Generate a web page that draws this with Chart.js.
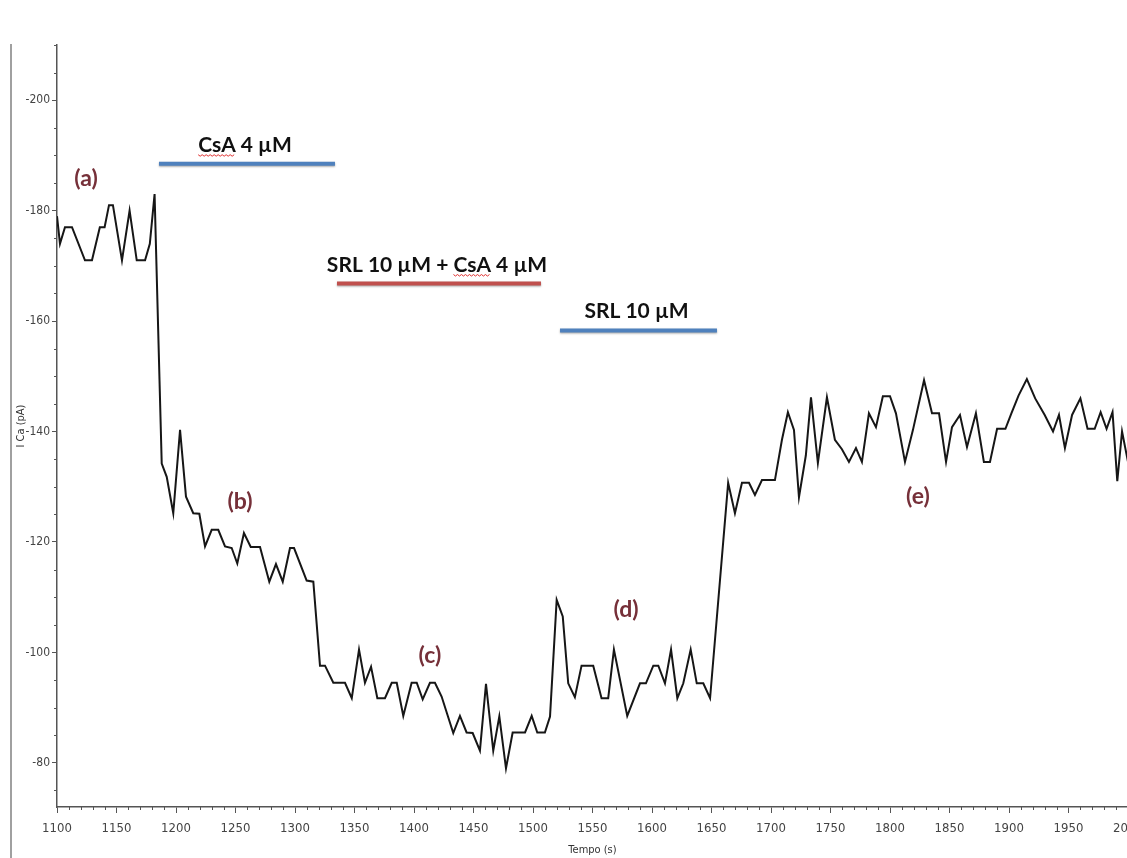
<!DOCTYPE html>
<html>
<head>
<meta charset="utf-8">
<script src="https://cdn.jsdelivr.net/npm/chart.js@4"></script>
<style>
  body { margin: 0; background: #fff; overflow: hidden; }
  #wrap { position: relative; width: 1127px; height: 858px; overflow: hidden; }
  #frame { position: absolute; left: 10px; top: 44px; width: 2px; height: 814px; background: #a0a0a0; }
  canvas { position: absolute; left: 0; top: 0; }
</style>
</head>
<body>
<div id="wrap">
  <div id="frame"></div>
  <canvas id="icaChart" width="1160" height="858"></canvas>
</div>
<script>
// ICa trace (time in s, current in pA)
const timeS = [
  1100, 1102.5, 1106.7, 1112.6, 1123.5, 1129.4, 1136, 1140, 1143.7, 1147, 1154.6, 1161, 1167, 1174, 1178, 1182,
  1188, 1192.2, 1197.7, 1203.4, 1208.4, 1214.5, 1219.6, 1224.4, 1230, 1235.5, 1241.2, 1246.8, 1251.5, 1257.1,
  1262.8, 1270.6, 1278.4, 1284, 1289.7, 1295.8, 1299.2, 1309.8, 1315.4,
  1321, 1325.2, 1332.2, 1342, 1347.7, 1353.8, 1358.8, 1363.9, 1369.2, 1375.6, 1381.3, 1385.5, 1391, 1398,
  1402.3, 1407.3, 1413.4, 1417.6, 1423.2, 1433, 1438.6, 1444.2, 1449.3, 1455.4, 1460.5, 1466.6, 1471.7,
  1477.3, 1482.9, 1493.3, 1498.9, 1503.6, 1510, 1514.3,
  1519.9, 1525, 1529.6, 1535.2, 1540.8, 1550.6, 1557.6, 1563.2, 1568, 1579.2, 1589.9, 1594.9, 1601.1,
  1605.3, 1610.9, 1616, 1621.3, 1626.3, 1632.5, 1637.6, 1643.1, 1648.8,
  1664, 1669.7, 1675.6, 1681.5, 1686.5, 1692.4, 1703.3, 1709.2, 1714.2, 1719.3, 1723.5, 1729.3, 1733.6,
  1739.4, 1747, 1753.7, 1759.6, 1765.5, 1771.4, 1776.4, 1782.3, 1788.2, 1794, 1800, 1805, 1812.6, 1819.3,
  1828.6, 1835.3, 1841.2, 1847.1, 1852.1, 1858.8, 1864.7, 1872.2, 1878.9, 1884, 1890, 1897, 1902, 1908,
  1915, 1922, 1930, 1937, 1942, 1947, 1953, 1960, 1966, 1972, 1977, 1982, 1987, 1991, 1995, 2000, 2004
];
const currentPA = [
  -179, -174, -177, -177, -171, -171, -177, -177, -181, -181, -171, -180, -171, -171, -174, -183,
  -134.2, -131.8, -125.2, -140.3, -128.2, -125.2, -125.1, -119.2, -122.2, -122.2, -119.2, -118.9, -116.1, -121.6,
  -119.1, -119.1, -112.8, -116, -112.8, -118.9, -118.9, -113, -112.8,
  -97.6, -97.6, -94.5, -94.5, -91.7, -100.5, -94.5, -97.4, -91.7, -91.7, -94.5, -94.5, -88.5, -94.5,
  -94.5, -91.5, -94.5, -94.5, -92, -85.4, -88.5, -85.5, -85.4, -82.2, -94.3, -82.2, -88.4,
  -79, -85.5, -85.5, -88.5, -85.5, -85.5, -88.4,
  -109.5, -106.5, -94.4, -91.9, -97.6, -97.6, -91.7, -91.7, -100.5, -88.5, -94.4, -94.4, -97.6,
  -97.6, -94.4, -100.5, -91.7, -94.4, -100.5, -94.4, -94.4, -91.7,
  -130.7, -125.2, -130.7, -130.7, -128.5, -131.2, -131.2, -138.5, -143.5, -140.3, -128.1, -135.7, -146.2,
  -134.3, -146.2, -138.5, -136.8, -134.5, -137, -134.5, -143.3, -140.8, -146.4, -146.4, -143.3, -134.5, -140.3,
  -149.3, -143.3, -143.3, -134.5, -140.8, -143, -137.2, -143.3, -134.5, -134.5, -140.5, -140.5, -143.3, -146.5,
  -149.5, -146, -143, -140, -143, -137, -143, -146, -140.5, -140.5, -143.5, -140.5, -143.5, -131, -140, -134.5, -134.5
];

const xTickStep = 50;
const yTicks = [-200, -180, -160, -140, -120, -100, -80];

// drug application periods
const treatmentLabels = ['CsA 4 µM', 'SRL 10 µM + CsA 4 µM', 'SRL 10 µM'];
const treatmentStart = [1185.7, 1335.3, 1522.7];
const treatmentEnd = [1333.6, 1506.7, 1654.6];
const treatmentLevel = [-188.5, -166.8, -158.3];

// phase labels
const phaseLabels = ['(a)', '(b)', '(c)', '(d)', '(e)'];
const phaseTime = [1124.4, 1253.8, 1413.4, 1578.2, 1823.5];
const phaseLevel = [-185.8, -127.4, -99.4, -107.7, -128.3];

const tickFont = "'Liberation Sans Narrow', 'DejaVu Sans Condensed', 'Liberation Sans', sans-serif";

const minorTicks = {
  id: 'minorTicks',
  afterDraw(chart) {
    const ctx = chart.ctx;
    const xs = chart.scales.x, ys = chart.scales.y;
    ctx.save();
    ctx.strokeStyle = '#555';
    ctx.lineWidth = 1;
    ctx.beginPath();
    for (let v = -210; v <= -72; v += 5) {
      if (v % 20 === 0) continue;
      const y = Math.round(ys.getPixelForValue(v)) + 0.5;
      ctx.moveTo(ys.right - 3, y);
      ctx.lineTo(ys.right, y);
    }
    for (let t = 1100; t <= 2000; t += 10) {
      if (t % 50 === 0) continue;
      const x = Math.round(xs.getPixelForValue(t)) + 0.5;
      ctx.moveTo(x, xs.top);
      ctx.lineTo(x, xs.top + 3);
    }
    ctx.stroke();
    ctx.restore();
  }
};

const annotations = {
  id: 'annotations',
  afterDatasetsDraw(chart) {
    const ctx = chart.ctx;
    const xs = chart.scales.x, ys = chart.scales.y;
    const barColors = ['#4f81bd', '#c0504d', '#4f81bd'];
    ctx.save();
    treatmentLabels.forEach((label, i) => {
      const x1 = xs.getPixelForValue(treatmentStart[i]);
      const x2 = xs.getPixelForValue(treatmentEnd[i]);
      const y = ys.getPixelForValue(treatmentLevel[i]);
      ctx.save();
      ctx.shadowColor = 'rgba(0,0,0,0.35)';
      ctx.shadowBlur = 2;
      ctx.shadowOffsetY = 1;
      ctx.strokeStyle = barColors[i];
      ctx.lineWidth = 4;
      ctx.beginPath();
      ctx.moveTo(x1, y);
      ctx.lineTo(x2, y);
      ctx.stroke();
      ctx.restore();

      ctx.font = "bold 21px Lato, 'Liberation Sans', sans-serif";
      ctx.fillStyle = '#111';
      ctx.textAlign = 'left';
      ctx.textBaseline = 'alphabetic';
      const w = ctx.measureText(label).width;
      const tx = (x1 + x2) / 2 - w / 2 - 2;
      const ty = y - 12;
      ctx.fillText(label, tx, ty);
      // spell-check squiggle under "CsA"
      const k = label.indexOf('CsA');
      if (k >= 0) {
        const sx = tx + ctx.measureText(label.slice(0, k)).width;
        const sw = ctx.measureText('CsA').width;
        ctx.strokeStyle = '#e03030';
        ctx.lineWidth = 1;
        ctx.beginPath();
        for (let p = 0; p <= sw; p += 2) {
          const yy = ty + 3 + ((p / 2) % 2 === 0 ? 0 : 1.5);
          if (p === 0) ctx.moveTo(sx + p, yy); else ctx.lineTo(sx + p, yy);
        }
        ctx.stroke();
      }
    });

    ctx.font = "bold 23px Lato, 'Liberation Sans', sans-serif";
    ctx.fillStyle = '#763039';
    ctx.textAlign = 'center';
    ctx.textBaseline = 'middle';
    phaseLabels.forEach((label, i) => {
      ctx.fillText(label, xs.getPixelForValue(phaseTime[i]), ys.getPixelForValue(phaseLevel[i]));
    });
    ctx.restore();
  }
};

const ctx = document.getElementById('icaChart').getContext('2d');
new Chart(ctx, {
  type: 'line',
  data: {
    datasets: [{
      label: 'I Ca',
      data: timeS.map((t, i) => ({ x: t, y: currentPA[i] })),
      borderColor: '#161616',
      borderWidth: 2,
      pointRadius: 0,
      tension: 0,
      fill: false
    }]
  },
  options: {
    responsive: false,
    animation: false,
    layout: { padding: { top: 45, right: 32, left: 0, bottom: 0 } },
    plugins: {
      legend: { display: false },
      tooltip: { enabled: false }
    },
    scales: {
      x: {
        type: 'linear',
        min: 1100,
        max: 2000,
        afterFit: s => { s.height = 51; s.paddingLeft = 0; s.paddingRight = 0; },
        ticks: {
          stepSize: xTickStep,
          autoSkip: false,
          maxRotation: 0,
          padding: 8,
          color: '#444',
          font: { family: tickFont, size: 13 },
          callback: v => String(v)
        },
        grid: { drawOnChartArea: false, drawTicks: true, tickLength: 6, color: '#555' },
        border: { display: true, color: '#555', width: 1.5 },
        title: {
          display: true,
          text: 'Tempo (s)',
          color: '#333',
          font: { family: tickFont, size: 11 },
          padding: { top: 0, bottom: 1 }
        }
      },
      y: {
        type: 'linear',
        reverse: true,
        min: -210,
        max: -72,
        afterFit: s => { s.width = 57; },
        afterBuildTicks: s => { s.ticks = yTicks.map(v => ({ value: v })); },
        ticks: {
          padding: 2,
          color: '#444',
          font: { family: tickFont, size: 12 },
          callback: v => String(v)
        },
        grid: { drawOnChartArea: false, drawTicks: true, tickLength: 5, color: '#555' },
        border: { display: true, color: '#555', width: 1.5 },
        title: {
          display: true,
          text: 'I Ca (pA)',
          color: '#333',
          font: { family: tickFont, size: 11 },
          padding: { top: 15, bottom: 0 }
        }
      }
    }
  },
  plugins: [minorTicks, annotations]
});
</script>
</body>
</html>
